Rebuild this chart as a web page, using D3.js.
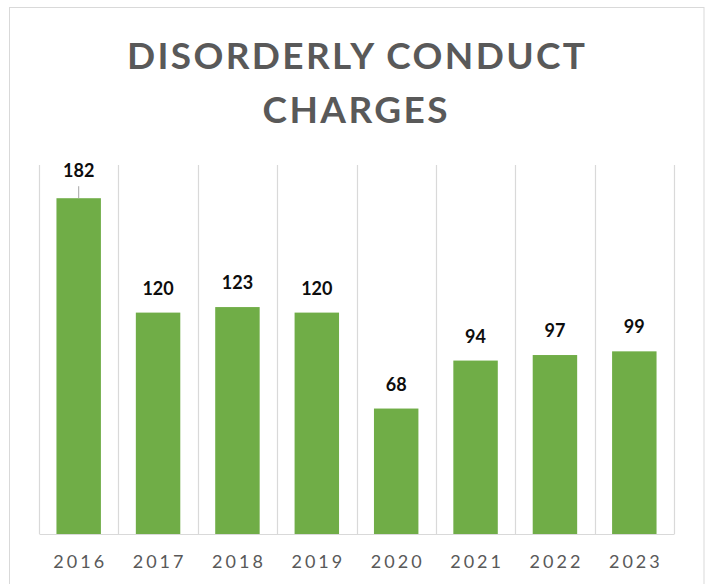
<!DOCTYPE html>
<html>
<head>
<meta charset="utf-8">
<script src="https://cdn.jsdelivr.net/npm/d3@7"></script>
<style>
  body { margin: 0; background: #fff; }
  svg { display: block; font-family: Lato, "Open Sans", sans-serif; }
</style>
</head>
<body>
<svg id="chart" width="713" height="584"></svg>
<script>
// chart data
const years = ["2016", "2017", "2018", "2019", "2020", "2021", "2022", "2023"];
const charges = [182, 120, 123, 120, 68, 94, 97, 99];
const titleLines = ["DISORDERLY CONDUCT", "CHARGES"];
const leaderYears = ["2016"]; // labels pulled up with a leader line

const svg = d3.select("#chart");
const margin = { left: 39, right: 39, top: 165, bottom: 50 };
const width = 713, height = 584;
const plotBottom = 534;

// outer chart frame
svg.append("rect")
    .attr("x", 9.5).attr("y", 7.5)
    .attr("width", 694.5).attr("height", 600)
    .attr("fill", "#fff")
    .attr("stroke", "#d9d9d9")
    .attr("stroke-width", 1);

// title
const titleWidths = [458, 185];
svg.append("g").selectAll("text")
    .data(titleLines)
    .join("text")
    .attr("x", (d, i) => 356 + (i === 0 ? 0 : -1))
    .attr("y", (d, i) => 69 + i * 54)
    .attr("text-anchor", "middle")
    .attr("font-size", 37)
    .attr("font-weight", "bold")
    .attr("fill", "#595959")
    .attr("textLength", (d, i) => titleWidths[i])
    .attr("lengthAdjust", "spacing")
    .text(d => d);

const x = d3.scaleBand()
    .domain(years)
    .range([margin.left, width - margin.right])
    .paddingInner(0.44)
    .paddingOuter(0.22);

const cell = d3.scaleBand()
    .domain(years)
    .range([margin.left, width - margin.right])
    .padding(0);

const y = d3.scaleLinear()
    .domain([0, 200])
    .range([plotBottom, margin.top]);

// vertical gridlines on category boundaries
const bounds = years.map(d => cell(d)).concat([cell(years[years.length - 1]) + cell.bandwidth()]);
svg.append("g").selectAll("line")
    .data(bounds)
    .join("line")
    .attr("x1", d => Math.round(d) + 0.5)
    .attr("x2", d => Math.round(d) + 0.5)
    .attr("y1", y(200))
    .attr("y2", plotBottom)
    .attr("stroke", "#d9d9d9")
    .attr("stroke-width", 1.2);

// bars
const data = years.map((yr, i) => ({ year: yr, value: charges[i] }));
svg.append("g").selectAll("rect")
    .data(data)
    .join("rect")
    .attr("x", d => x(d.year))
    .attr("y", d => y(d.value))
    .attr("width", x.bandwidth())
    .attr("height", d => plotBottom - y(d.value))
    .attr("fill", "#70ad47");

// category axis
const xAxis = svg.append("g")
    .attr("transform", `translate(0,${plotBottom})`)
    .call(d3.axisBottom(cell).tickSize(0).tickPadding(21));
xAxis.select(".domain")
    .attr("stroke", "#d9d9d9")
    .attr("stroke-width", 1.2);
xAxis.selectAll("text")
    .attr("font-family", "Lato, 'Open Sans', sans-serif")
    .attr("font-size", 18)
    .attr("fill", "#595959")
    .attr("letter-spacing", 3)
    .attr("dx", 1.5);

// leader lines
svg.append("g").selectAll("line")
    .data(data.filter(d => leaderYears.includes(d.year)))
    .join("line")
    .attr("x1", d => x(d.year) + x.bandwidth() / 2)
    .attr("x2", d => x(d.year) + x.bandwidth() / 2)
    .attr("y1", d => y(d.value) - 12)
    .attr("y2", d => y(d.value))
    .attr("stroke", "#a6a6a6")
    .attr("stroke-width", 1);

// value labels
svg.append("g").selectAll("text")
    .data(data)
    .join("text")
    .attr("x", d => x(d.year) + x.bandwidth() / 2)
    .attr("y", d => y(d.value) - (leaderYears.includes(d.year) ? 21 : 18))
    .attr("text-anchor", "middle")
    .attr("font-size", 18)
    .attr("font-weight", "bold")
    .attr("fill", "#0d0d0d")
    .text(d => d.value);
</script>
</body>
</html>
